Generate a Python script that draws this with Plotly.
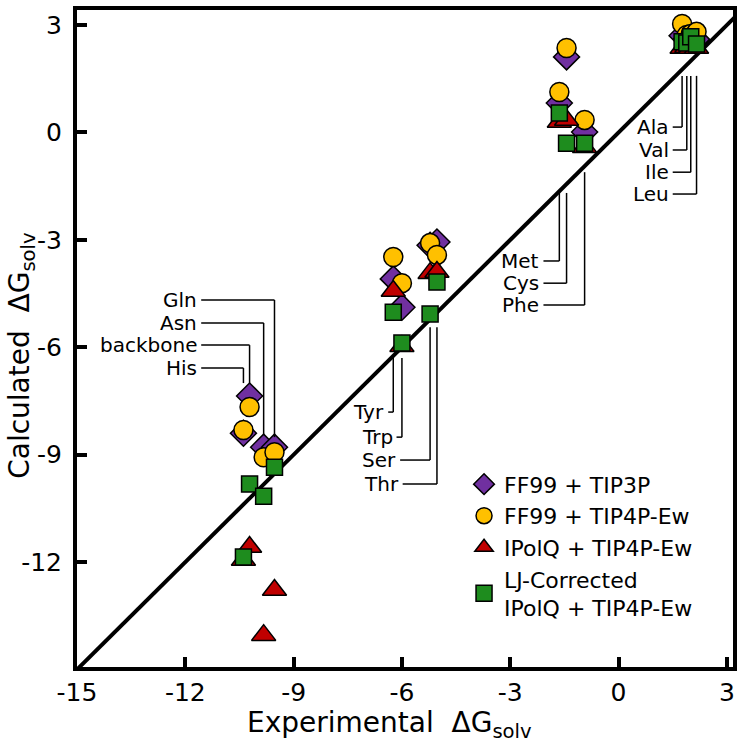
import plotly.graph_objects as go

# hydration free energies (kcal/mol)
compounds = ["His", "backbone", "Asn", "Gln", "Tyr", "Trp", "Ser", "Thr",
             "Met", "Cys", "Phe", "Ala", "Val", "Ile", "Leu"]
experimental = [-10.39, -10.22, -9.83, -9.53, -6.24, -6.0, -5.22, -5.03,
                -1.64, -1.44, -0.94, 1.76, 1.89, 2.0, 2.16]
ff99_tip3p = [-8.40, -7.36, -8.79, -8.79, -4.09, -4.88, -3.15, -3.06,
              0.82, 2.11, 0.01, 2.70, 2.62, 2.68, 2.60]
ff99_tip4pew = [-8.31, -7.67, -9.07, -8.93, -3.48, -4.21, -3.09, -3.42,
                1.13, 2.36, 0.35, 3.03, 2.72, 2.75, 2.81]
ipolq_tip4pew = [-11.94, -11.58, -14.04, -12.78, -4.43, -5.97, -3.93, -3.90,
                 0.29, 0.35, -0.41, 2.36, 2.38, 2.36, 2.36]
lj_ipolq_tip4pew = [-11.86, -9.82, -10.16, -9.35, -5.02, -5.88, -5.07, -4.18,
                    0.54, -0.30, -0.30, 2.53, 2.50, 2.67, 2.47]

tick_vals_x = [-15, -12, -9, -6, -3, 0, 3]
tick_vals_y = [-12, -9, -6, -3, 0, 3]

FONT = "DejaVu Sans"

fig = go.Figure()

# y = x reference line
fig.add_trace(go.Scatter(x=[-15.5, 3.5], y=[-15.5, 3.5], mode="lines",
                         line=dict(color="black", width=4),
                         showlegend=False, hoverinfo="skip"))

series = [
    ("FF99 + TIP3P", ff99_tip3p, "diamond", "#7030A0", 20),
    ("FF99 + TIP4P-Ew", ff99_tip4pew, "circle", "#FFC000", 19),
    ("IPolQ + TIP4P-Ew", ipolq_tip4pew, "triangle-up", "#C00000", 21),
    ("LJ-Corrected<br>IPolQ + TIP4P-Ew", lj_ipolq_tip4pew, "square", "#1E8C1E", 16),
]
for name, vals, sym, col, size in series:
    fig.add_trace(go.Scatter(x=experimental, y=vals, mode="markers", name=name,
                             text=compounds,
                             marker=dict(symbol=sym, color=col, size=size,
                                         line=dict(color="black", width=1.5))))

# leader-line labels: name, label y, line tip y, label right edge x
label_layout = [
    ("Gln", -4.68, -8.51, -11.56),
    ("Asn", -5.32, -8.45, -11.56),
    ("backbone", -5.94, -7.0, -11.56),
    ("His", -6.58, -7.0, -11.56),
    ("Tyr", -7.81, -6.30, -6.38),
    ("Trp", -8.51, -6.30, -6.15),
    ("Ser", -9.15, -5.44, -6.05),
    ("Thr", -9.82, -5.44, -5.98),
    ("Met", -3.59, -1.69, -2.08),
    ("Cys", -4.21, -1.69, -2.08),
    ("Phe", -4.82, -1.11, -2.08),
    ("Ala", 0.15, 1.58, 1.50),
    ("Val", -0.49, 1.58, 1.50),
    ("Ile", -1.11, 1.58, 1.50),
    ("Leu", -1.72, 1.58, 1.50),
]
exp_of = dict(zip(compounds, experimental))
for name, ly, tip, xend in label_layout:
    xv = exp_of[name]
    fig.add_shape(type="line", x0=xend, x1=xv, y0=ly, y1=ly,
                  line=dict(color="black", width=1.5))
    fig.add_shape(type="line", x0=xv, x1=xv, y0=ly, y1=tip,
                  line=dict(color="black", width=1.5))
    fig.add_annotation(x=xend, y=ly, text=name, showarrow=False,
                       xanchor="right", yanchor="middle", xshift=-2,
                       font=dict(family=FONT, size=20, color="black"))

# axis titles as annotations so they can sit where the original has them
title_font = dict(family=FONT, size=28, color="black")
fig.add_annotation(xref="paper", yref="paper", x=0.476, y=-0.088,
                   text="Experimental  ΔG<sub>solv</sub>", showarrow=False,
                   xanchor="center", yanchor="middle", font=title_font)
fig.add_annotation(xref="paper", yref="paper", x=-0.084, y=0.475,
                   text="Calculated  ΔG<sub>solv</sub>", showarrow=False,
                   textangle=-90, xanchor="center", yanchor="middle",
                   font=title_font)

axis_common = dict(showline=True, linewidth=4, linecolor="black", mirror=True,
                   ticks="inside", ticklen=10, tickwidth=4, tickcolor="black",
                   showgrid=False, zeroline=False, automargin=False,
                   tickfont=dict(family=FONT, size=25, color="black"))

fig.update_xaxes(range=[-15.0, 3.17], tickvals=tick_vals_x,
                 ticktext=[str(v) for v in tick_vals_x], **axis_common)
fig.update_yaxes(range=[-14.93, 3.42], tickvals=tick_vals_y,
                 ticktext=[str(v) for v in tick_vals_y],
                 ticklabelstandoff=6, **axis_common)

fig.update_layout(
    width=744, height=745,
    margin=dict(l=77, r=11, t=10, b=78),
    plot_bgcolor="white", paper_bgcolor="white",
    legend=dict(x=0.59, y=0.31, xanchor="left", yanchor="top",
                font=dict(family=FONT, size=22, color="black"),
                bgcolor="rgba(0,0,0,0)", tracegroupgap=2),
)

# drop the default page margin so the figure sits at the window's corner
fig.write_html("out.html", config={"displayModeBar": False},
               post_script="document.body.style.margin='0px';")
